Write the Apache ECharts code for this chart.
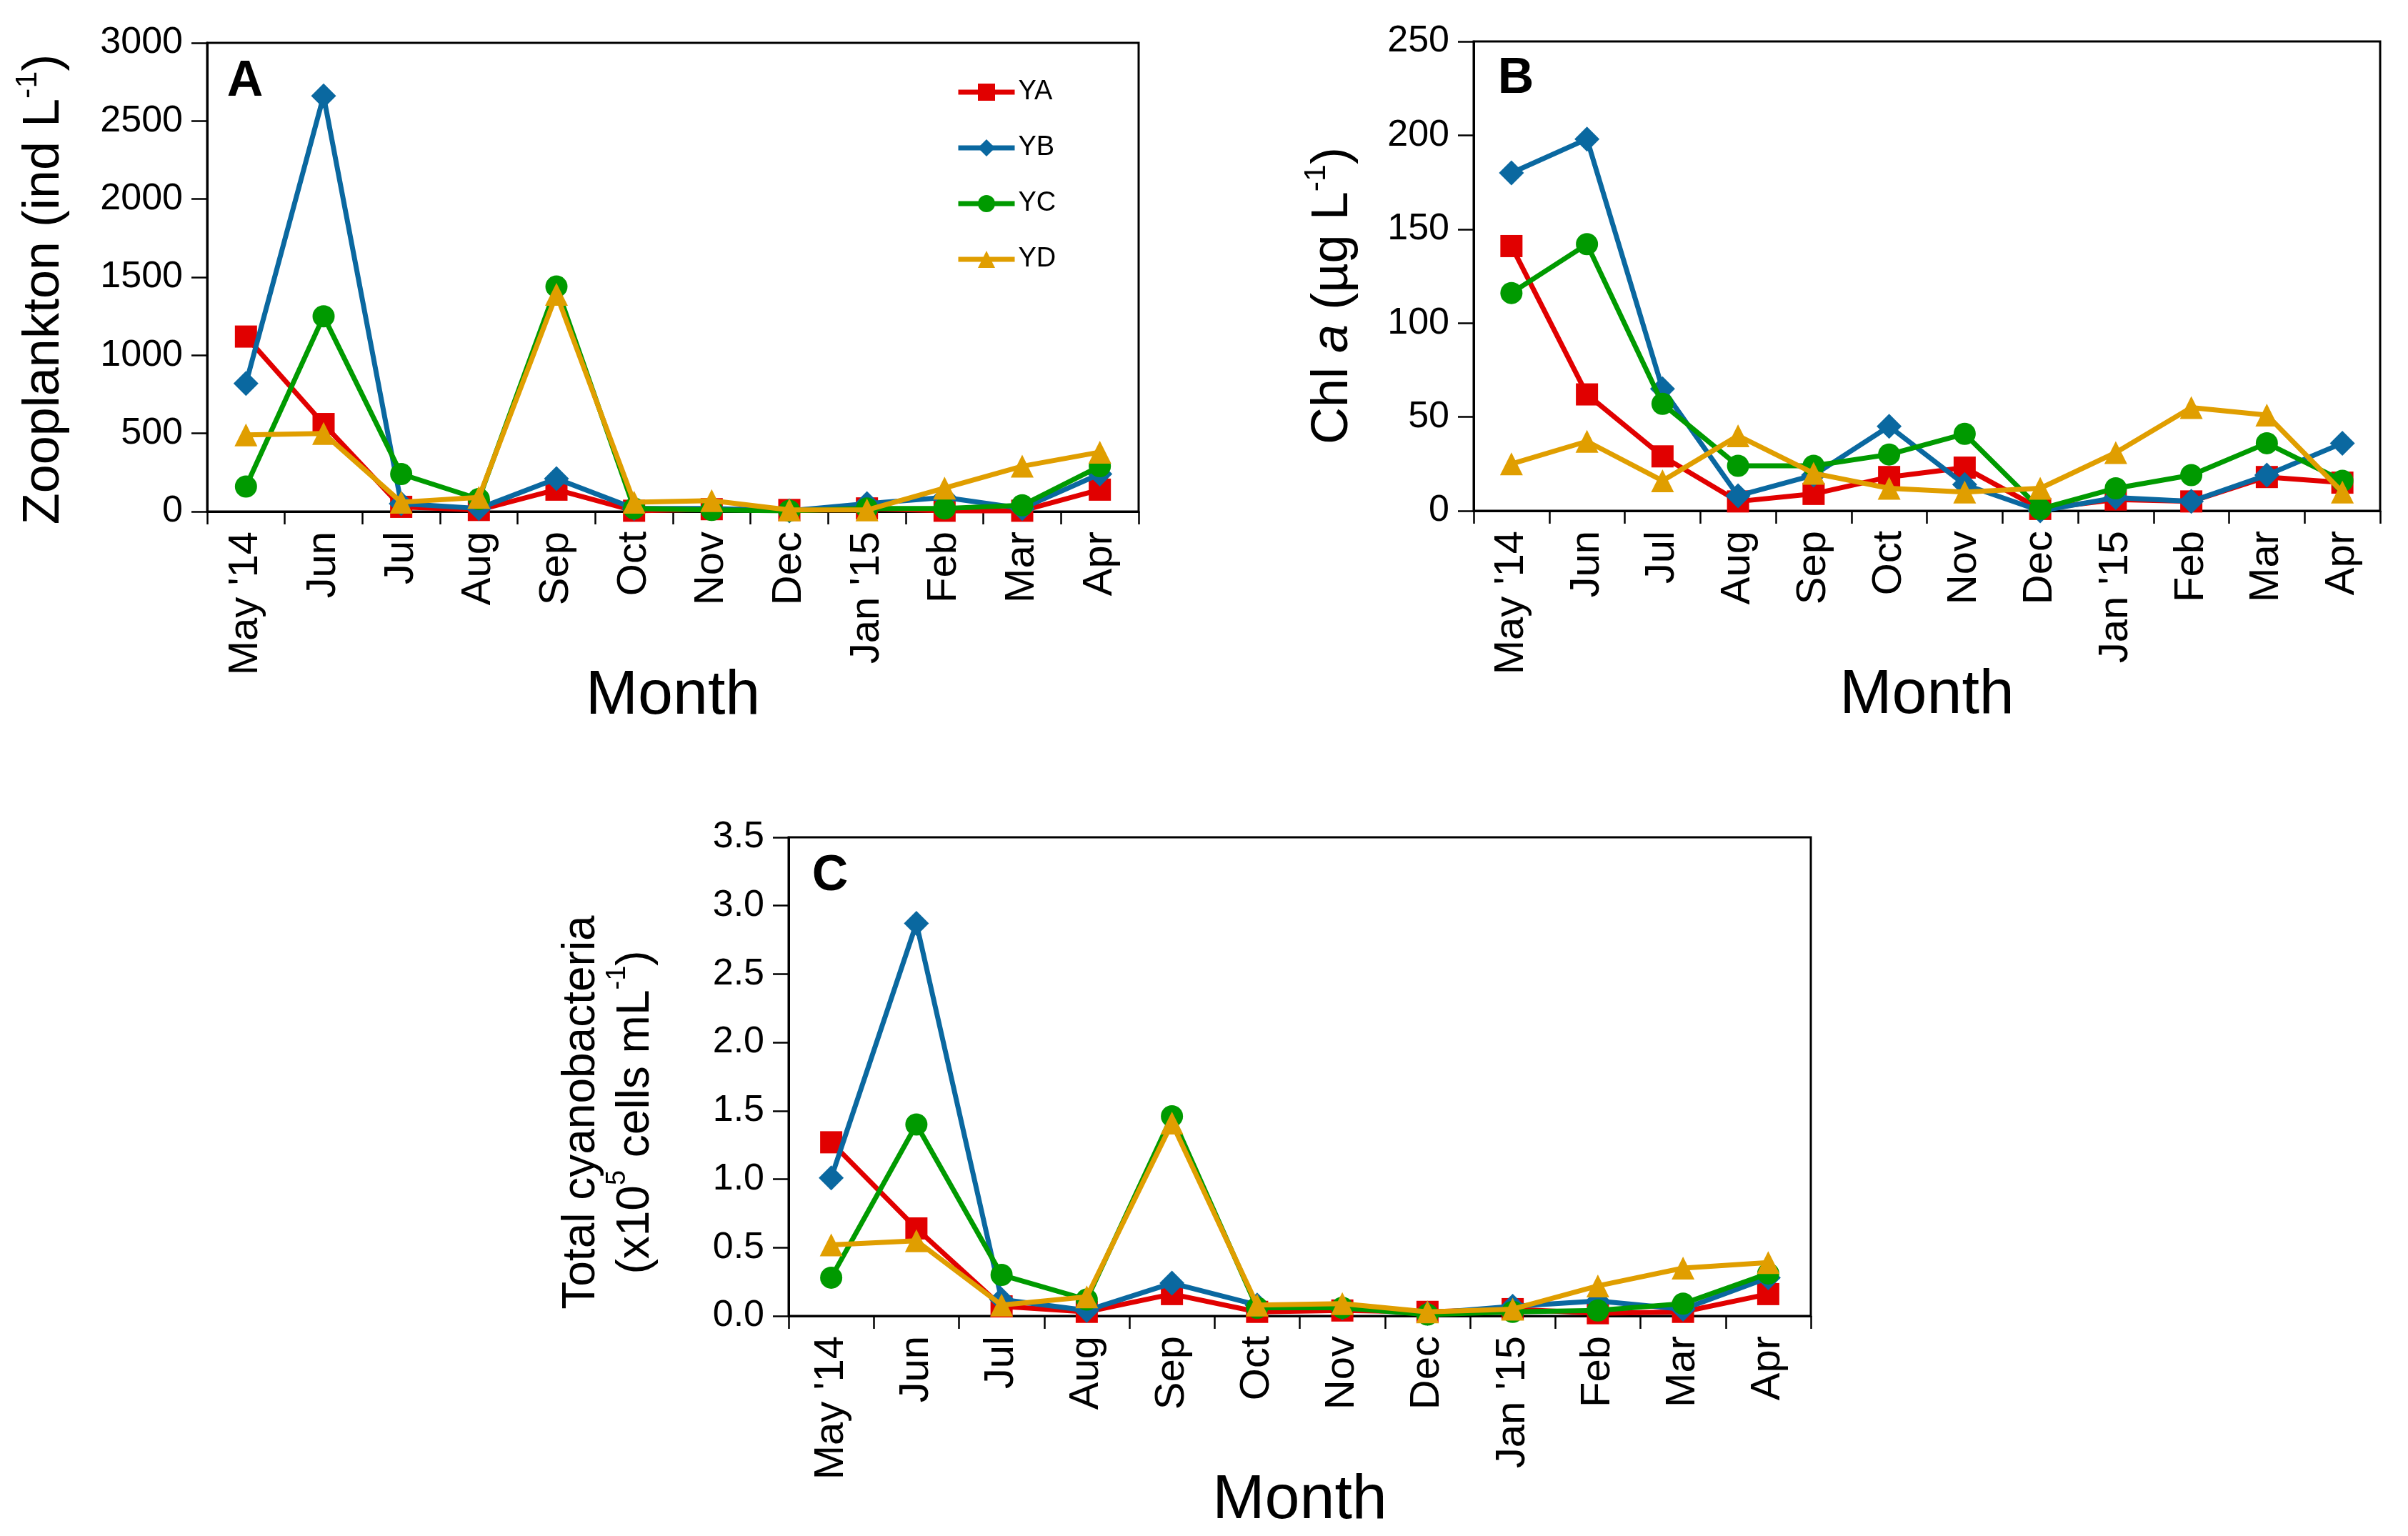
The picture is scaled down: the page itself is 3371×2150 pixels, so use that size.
<!DOCTYPE html>
<html>
<head>
<meta charset="utf-8">
<script src="https://cdn.jsdelivr.net/npm/echarts@6/dist/echarts.min.js"></script>
<style>
html,body{margin:0;padding:0;background:#fff;}
#chart{width:3371px;height:2150px;}
</style>
</head>
<body>
<div id="chart"></div>
<script>
const months = ["May '14","Jun","Jul","Aug","Sep","Oct","Nov","Dec","Jan '15","Feb","Mar","Apr"];
const seriesNames = ["YA","YB","YC","YD"];

// Panel A: Zooplankton (ind L-1)
const zooYA = [1120, 560, 30, 10, 140, 5, 15, 10, 20, 5, 5, 140];
const zooYB = [820, 2660, 50, 20, 210, 20, 20, 5, 50, 90, 20, 240];
const zooYC = [160, 1250, 240, 80, 1440, 20, 10, 5, 20, 20, 40, 290];
const zooYD = [490, 500, 60, 90, 1390, 60, 70, 10, 10, 150, 290, 380];

// Panel B: Chl a (ug L-1)
const chlYA = [141, 62, 29, 5, 9, 18, 23, 1, 6, 5, 18, 15];
const chlYB = [180, 198, 65, 8, 19, 45, 14, 0, 7, 5, 19, 36];
const chlYC = [116, 142, 57, 24, 24, 30, 41, 1, 12, 19, 36, 16];
const chlYD = [25, 37, 16, 40, 20, 12, 10, 12, 31, 55, 51, 10];

// Panel C: Total cyanobacteria (x10^5 cells mL-1)
const cyaYA = [1.27, 0.64, 0.07, 0.03, 0.16, 0.03, 0.04, 0.03, 0.05, 0.02, 0.03, 0.16];
const cyaYB = [1.01, 2.87, 0.12, 0.04, 0.24, 0.08, 0.06, 0.02, 0.07, 0.11, 0.05, 0.28];
const cyaYC = [0.28, 1.40, 0.30, 0.12, 1.46, 0.06, 0.06, 0.01, 0.03, 0.04, 0.09, 0.31];
const cyaYD = [0.52, 0.55, 0.08, 0.14, 1.41, 0.08, 0.09, 0.03, 0.05, 0.22, 0.35, 0.39];

const yTicksA = {min: 0, max: 3000, interval: 500};
const yTicksB = {min: 0, max: 250, interval: 50};
const yTicksC = {min: 0, max: 3.5, interval: 0.5};

const colors = ['#E10000', '#0A68A0', '#009A00', '#E09E00'];
const symbols = ['rect', 'diamond', 'circle', 'triangle'];
const FONT = '"Liberation Sans", Arial, sans-serif';

const chart = echarts.init(document.getElementById('chart'), null, {renderer: 'canvas'});

const grids = [
  {left: 290, top: 60, right: 3371 - 1594, bottom: 2150 - 716},
  {left: 2063, top: 58, right: 3371 - 3332, bottom: 2150 - 715},
  {left: 1104, top: 1172, right: 3371 - 2535, bottom: 2150 - 1842}
].map(g => Object.assign(g, {show: true, borderColor: '#000', borderWidth: 3, backgroundColor: 'transparent', outerBoundsMode: 'none', containLabel: false}));

function xAx(i) {
  return {
    type: 'category', gridIndex: i, data: months, boundaryGap: true,
    axisLine: {lineStyle: {color: '#000', width: 3}},
    axisTick: {show: true, interval: 0, length: 18, lineStyle: {color: '#000', width: 2.5}},
    axisLabel: {interval: 0, rotate: 90, margin: 28, fontSize: 58, color: '#000', fontFamily: FONT},
    name: 'Month', nameLocation: 'middle', nameGap: 215, nameMoveOverlap: false,
    nameTextStyle: {fontSize: 88, color: '#000', fontFamily: FONT},
    splitLine: {show: false}
  };
}
function yAx(i, t, fmt) {
  return {
    type: 'value', gridIndex: i, min: t.min, max: t.max, interval: t.interval,
    axisLine: {show: true, lineStyle: {color: '#000', width: 3}},
    axisTick: {show: true, length: 22, lineStyle: {color: '#000', width: 2.5}},
    axisLabel: {margin: 34, fontSize: 52, color: '#000', fontFamily: FONT, formatter: fmt},
    splitLine: {show: false}
  };
}

const panelData = [
  [zooYA, zooYB, zooYC, zooYD],
  [chlYA, chlYB, chlYC, chlYD],
  [cyaYA, cyaYB, cyaYC, cyaYD]
];

const series = [];
panelData.forEach((arrs, p) => {
  arrs.forEach((d, k) => {
    series.push({
      name: seriesNames[k], type: 'line', xAxisIndex: p, yAxisIndex: p, data: d,
      symbol: symbols[k], symbolSize: k === 1 ? 35 : (k === 3 ? 32 : 31),
      showAllSymbol: true,
      lineStyle: {color: colors[k], width: 7},
      itemStyle: {color: colors[k]},
      emphasis: {disabled: true},
      animation: false, z: 2 + k
    });
  });
});

function richT(size) {
  return {
    n: {fontSize: size, lineHeight: 88, fontFamily: FONT, fill: '#000', verticalAlign: 'middle'},
    i: {fontSize: size, lineHeight: 88, fontFamily: FONT, fontStyle: 'italic', fill: '#000', verticalAlign: 'middle'},
    s: {fontSize: Math.round(size * 0.6), lineHeight: 50, verticalAlign: 'top', fontFamily: FONT, fill: '#000'}
  };
}

const graphic = [
  {type: 'text', x: 62, y: 405, rotation: Math.PI / 2,
   style: {text: '{n|Zooplankton (ind L}{s|-1}{n|)}', rich: richT(72), align: 'center', verticalAlign: 'middle'}},
  {type: 'text', x: 1866, y: 414, rotation: Math.PI / 2,
   style: {text: '{n|Chl }{i|a}{n| (µg L}{s|-1}{n|)}', rich: richT(72), align: 'center', verticalAlign: 'middle'}},
  {type: 'text', x: 814, y: 1557, rotation: Math.PI / 2,
   style: {text: '{n|Total cyanobacteria}', rich: richT(64), align: 'center', verticalAlign: 'middle'}},
  {type: 'text', x: 890, y: 1557, rotation: Math.PI / 2,
   style: {text: '{n|(x10}{s|5}{n| cells mL}{s|-1}{n|)}', rich: richT(64), align: 'center', verticalAlign: 'middle'}},
  {type: 'text', x: 343, y: 115, style: {text: 'A', font: 'bold 70px ' + FONT, fill: '#000', align: 'center', verticalAlign: 'middle'}},
  {type: 'text', x: 2122, y: 111, style: {text: 'B', font: 'bold 70px ' + FONT, fill: '#000', align: 'center', verticalAlign: 'middle'}},
  {type: 'text', x: 1162, y: 1227, style: {text: 'C', font: 'bold 70px ' + FONT, fill: '#000', align: 'center', verticalAlign: 'middle'}}
];

chart.setOption({
  animation: false,
  backgroundColor: '#fff',
  grid: grids,
  xAxis: [xAx(0), xAx(1), xAx(2)],
  yAxis: [
    yAx(0, yTicksA, v => String(v)),
    yAx(1, yTicksB, v => String(v)),
    yAx(2, yTicksC, v => v.toFixed(1))
  ],
  legend: {
    orient: 'vertical', left: 1333, top: 105,
    data: seriesNames,
    itemWidth: 79, itemHeight: 30, itemGap: 40,
    lineStyle: {width: 7},
    textStyle: {fontSize: 38, color: '#000', fontFamily: FONT},
    selectedMode: false
  },
  series: series,
  graphic: graphic
});
</script>
</body>
</html>
